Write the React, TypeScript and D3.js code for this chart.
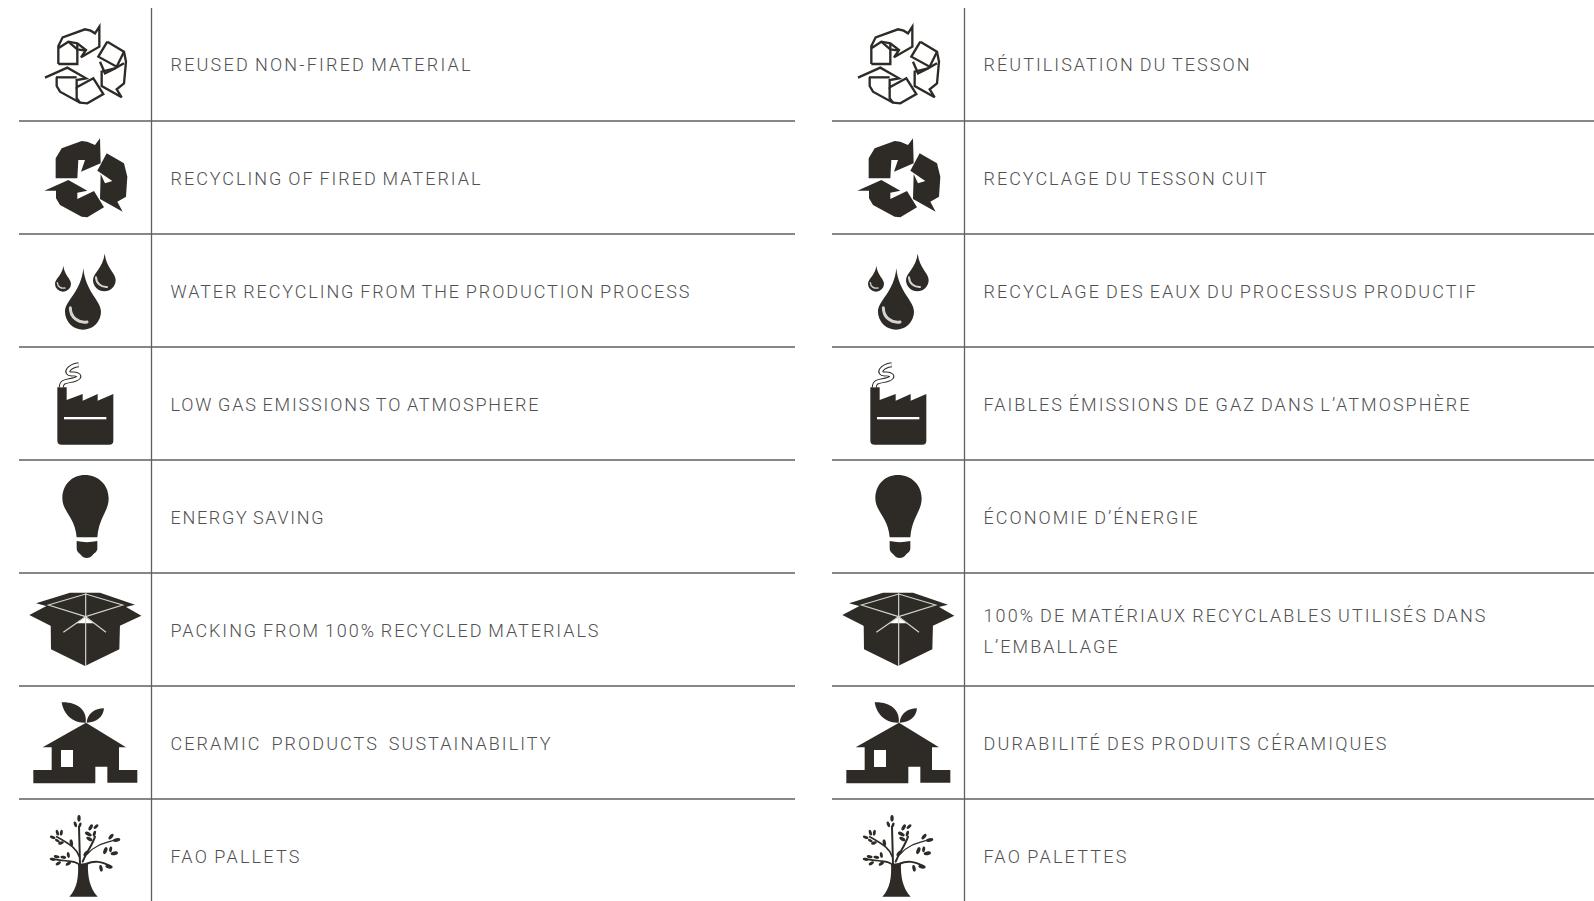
import React from "react";
import { scaleBand, line, curveLinearClosed, path as d3path } from "d3";

const labelsEn = [
  "REUSED NON-FIRED MATERIAL",
  "RECYCLING OF FIRED MATERIAL",
  "WATER RECYCLING FROM THE PRODUCTION PROCESS",
  "LOW GAS EMISSIONS TO ATMOSPHERE",
  "ENERGY SAVING",
  "PACKING FROM 100% RECYCLED MATERIALS",
  "CERAMIC  PRODUCTS  SUSTAINABILITY",
  "FAO PALLETS",
];
const labelsFr = [
  "RÉUTILISATION DU TESSON",
  "RECYCLAGE DU TESSON CUIT",
  "RECYCLAGE DES EAUX DU PROCESSUS PRODUCTIF",
  "FAIBLES ÉMISSIONS DE GAZ DANS L’ATMOSPHÈRE",
  "ÉCONOMIE D’ÉNERGIE",
  "100% DE MATÉRIAUX RECYCLABLES UTILISÉS DANS|L’EMBALLAGE",
  "DURABILITÉ DES PRODUITS CÉRAMIQUES",
  "FAO PALETTES",
];
// text run widths, px
const widthsEn = [[302], [312], [521], [370], [155], [430], [382], [131]];
const widthsFr = [[268], [285], [494], [488], [216], [504, 136], [405], [145]];
const columns = [labelsEn, labelsFr];
const columnWidths = [widthsEn, widthsFr];
const rows = labelsEn.map((_, i) => i);

const WIDTH = 1594;
const HEIGHT = 901;
const DARK = "#2e2b27";
const RULE = "#5f5f5f";

const yScale = scaleBand<number>().domain(rows).range([8, 912]);
const xScale = scaleBand<number>().domain([0, 1]).range([0, 1626]);

const poly = line().curve(curveLinearClosed);
const P = (pts: number[][]) => poly(pts as [number, number][]) as string;

// icon outlines below are traced at 3x, y measured from the crop top
const cropShift = [8, 121, 4, 117, 0, 113, 6, 119];

function dropPath(tipX: number, tipY: number, cx: number, cy: number, r: number) {
  const p = d3path();
  p.moveTo(tipX, tipY);
  p.bezierCurveTo(tipX - r * 0.12, cy - r * 1.1, cx - r, cy - r * 0.6, cx - r, cy);
  p.arc(cx, cy, r, Math.PI, 0, true);
  p.bezierCurveTo(cx + r, cy - r * 0.6, tipX + r * 0.12, cy - r * 1.1, tipX, tipY);
  p.closePath();
  return p.toString();
}

const recycleFilled = [
  [[167, 535], [167, 475], [185, 445], [245, 423], [262, 425], [285, 435], [300, 415], [302, 490], [243, 515], [255, 480], [235, 480], [232, 535]],
  [[320, 460], [372, 490], [382, 530], [378, 590], [352, 605], [368, 635], [300, 597], [302, 522], [315, 550], [337, 543], [292, 512]],
  [[133, 572], [205, 540], [262, 572], [232, 578], [232, 597], [282, 573], [312, 622], [262, 652], [245, 650], [180, 615], [168, 595], [168, 572]],
];

function RecycleOutline() {
  const lines = [
    "M175,192 V138 L188,112 L255,88 L272,92 L285,100 L298,80 V140 L243,172 L258,150 L232,130 L205,125 L175,145",
    "M175,192 H232 V130",
    "M205,125 L232,148 L258,152",
    "M322,125 L372,155 L378,185 L372,250 L350,268 L365,292 L305,258 V215 L345,205 L372,190",
    "M322,125 L295,170 L350,200 L372,155",
    "M300,185 L315,220 L345,205",
    "M135,233 L202,203 L258,235 L230,240 V262 L280,235 L310,282 L262,310 L240,308 L180,275 L170,258 V232",
    "M230,262 V295 L240,308",
    "M168,232 L230,232",
  ];
  return (
    <g fill="none" stroke={DARK} strokeWidth={7} strokeLinejoin="miter">
      {lines.map((d, i) => (
        <path key={i} d={d} />
      ))}
    </g>
  );
}

function RecycleSolid() {
  return (
    <g fill={DARK}>
      {recycleFilled.map((pts, i) => (
        <path key={i} d={P(pts)} />
      ))}
    </g>
  );
}

function Drops() {
  return (
    <g>
      <path d={dropPath(250, 115, 249, 245, 54)} fill={DARK} />
      <path d={dropPath(190, 107, 189, 161, 24)} fill={DARK} />
      <path d={dropPath(314, 70, 313, 150, 34)} fill={DARK} />
      <g fill="none" stroke="#d4d4d0" strokeLinecap="round">
        <path d="M211,233 C211,262 235,280 261,276" strokeWidth={9} />
        <path d="M172,158 C173,170 182,176 195,174" strokeWidth={4} />
        <path d="M288,142 C289,160 303,172 321,171" strokeWidth={6} />
      </g>
    </g>
  );
}

function Factory() {
  const smoke = "M184,472 C184,450 205,455 225,448 C248,440 232,430 215,432 C192,432 205,408 236,404";
  return (
    <g>
      <path
        d="M172,472 H200 V510 L248,492 V512 L293,492 V512 L340,492 V632 Q340,644 328,644 H185 Q172,644 172,632 Z"
        fill={DARK}
      />
      <rect x={192} y={561} width={127} height={7} fill="#ffffff" />
      <path d={smoke} fill="none" stroke={DARK} strokeWidth={15} />
      <path d={smoke} fill="none" stroke="#ffffff" strokeWidth={9} />
    </g>
  );
}

function Bulb() {
  return (
    <g fill={DARK}>
      <path d="M255,45 C215,45 187,75 187,115 C187,155 225,170 230,232 H292 C297,170 326,155 326,115 C326,75 295,45 255,45 Z" />
      <path d="M230,243 Q260,250 292,243 V265 C292,275 285,278 278,285 C270,297 250,297 243,285 C235,278 230,275 230,265 Z" />
    </g>
  );
}

function Box() {
  return (
    <g>
      <g fill={DARK}>
        <path d={P([[152, 490], [360, 490], [358, 568], [255, 618], [153, 568]])} />
        <path d={P([[88, 465], [145, 435], [255, 470], [190, 517]])} />
        <path d={P([[255, 470], [368, 435], [424, 467], [318, 517]])} />
        <path d={P([[108, 430], [210, 398], [300, 398], [405, 434], [258, 470]])} />
      </g>
      <g fill="none" stroke="#d3d6ca" strokeWidth={3.5}>
        <path d="M257,400 V618" />
        <path d="M145,435 L257,402 L368,435 L257,470 Z" />
        <path d="M190,517 L257,470 L318,517" />
      </g>
    </g>
  );
}

function House() {
  return (
    <g fill={DARK}>
      <path d={P([[128, 202], [258, 128], [378, 202], [357, 202], [357, 270], [412, 270], [412, 308], [322, 308], [322, 260], [286, 260], [286, 310], [100, 310], [100, 270], [155, 270], [155, 202]])} />
      <rect x={183} y={210} width={36} height={51} fill="#ffffff" />
      <path d="M185,67 C230,65 262,90 257,128 C215,130 190,100 185,67 Z" />
      <path d="M312,85 C285,85 262,100 260,128 C290,128 310,110 312,85 Z" />
    </g>
  );
}

const treeLeaves = [
  [237, 415, 90, 10], [226, 433, 70, 9], [240, 435, 110, 8], [272, 442, -60, 10], [288, 440, -40, 9],
  [265, 462, 30, 11], [283, 461, -70, 9], [268, 477, 30, 10], [158, 472, 20, 9], [172, 458, 75, 9],
  [184, 458, 100, 9], [183, 489, -20, 9], [172, 482, 30, 8], [214, 488, 80, 10], [333, 470, -50, 10],
  [350, 480, -10, 11], [316, 512, -70, 11], [332, 508, 100, 9], [343, 520, -10, 11], [258, 520, -50, 10],
  [170, 530, 10, 9], [190, 532, 10, 9], [205, 525, 80, 9], [158, 538, 10, 9], [175, 550, -30, 9],
  [205, 551, -30, 9], [303, 565, 80, 10], [327, 560, 10, 11],
];

function Tree() {
  return (
    <g>
      <path d="M208,650 C232,625 236,590 234,552 L264,548 C262,590 270,625 293,650 Z" fill={DARK} />
      <g fill="none" stroke={DARK} strokeLinecap="round">
        <path d="M240,552 L237,440" strokeWidth={6} />
        <path d="M238,530 C228,505 215,495 170,470" strokeWidth={5} />
        <path d="M248,545 C260,515 275,500 285,470" strokeWidth={6} />
        <path d="M262,522 C285,495 310,490 345,480" strokeWidth={3.5} />
        <path d="M258,552 C285,540 305,545 330,558" strokeWidth={6} />
        <path d="M240,556 C225,540 200,545 165,538" strokeWidth={5} />
      </g>
      <g fill={DARK}>
        {treeLeaves.map(([x, y, r, s], i) => (
          <ellipse key={i} cx={x} cy={y} rx={s} ry={s * 0.5} transform={`rotate(${r} ${x} ${y})`} />
        ))}
      </g>
    </g>
  );
}

const icons = [RecycleOutline, RecycleSolid, Drops, Factory, Bulb, Box, House, Tree];

export default function App() {
  const band = yScale.bandwidth();
  return (
    <svg
      width={WIDTH}
      height={HEIGHT}
      viewBox={`0 0 ${WIDTH} ${HEIGHT}`}
      style={{ position: "absolute", left: 0, top: 0, display: "block", background: "#ffffff" }}
    >
      {columns.map((labels, c) => {
        const x0 = xScale(c) as number;
        return (
          <g key={c} transform={`translate(${x0},0)`}>
            <line x1={151.5} x2={151.5} y1={8} y2={HEIGHT} stroke={RULE} strokeWidth={1.3} />
            {rows.slice(1).map((r) => (
              <line key={r} x1={19} x2={795} y1={yScale(r)} y2={yScale(r)} stroke={RULE} strokeWidth={1.3} />
            ))}
            {rows.map((r) => {
              const Icon = icons[r];
              return (
                <g key={r} transform={`translate(0,${(yScale(r) as number) - cropShift[r]}) scale(${1 / 3})`}>
                  <Icon />
                </g>
              );
            })}
            <g opacity={0.99}>
              {labels.map((label, r) => {
                const parts = label.split("|");
                // first row sits a little higher in the reference
                const mid = (yScale(r) as number) + band / 2 + (r === 0 ? 0 : 1.5);
                return parts.map((part, k) => (
                  <text
                    key={k}
                    x={170.5}
                    y={mid + (k - (parts.length - 1) / 2) * 31.5}
                    dy="0.355em"
                    fontFamily="Roboto, sans-serif"
                    fontSize={18}
                    fontWeight={300}
                    letterSpacing={2}
                    wordSpacing={-1.5}
                    textLength={columnWidths[c][r][k]}
                    lengthAdjust="spacing"
                    fill="#4f4f4f"
                    style={{ whiteSpace: "pre" }}
                  >
                    {part}
                  </text>
                ));
              })}
            </g>
          </g>
        );
      })}
    </svg>
  );
}
